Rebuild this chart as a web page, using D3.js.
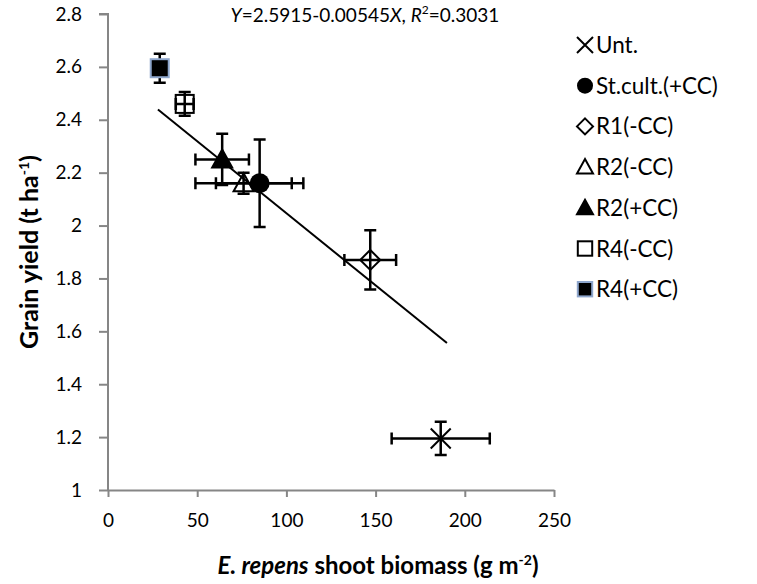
<!DOCTYPE html>
<html><head><meta charset="utf-8">
<script src="https://cdn.jsdelivr.net/npm/d3@7"></script>
<style>body{margin:0;background:#fff}svg{display:block}text{font-family:Lato,"Open Sans",sans-serif}</style>
</head><body><svg id="c" width="757" height="584"></svg>
<script>
const treatments = ["Unt.","St.cult.(+CC)","R1(-CC)","R2(-CC)","R2(+CC)","R4(-CC)","R4(+CC)"];
const symbols    = ["x","circle","diamond","triangleOpen","triangle","squareOpen","square"];
const biomass    = [186.5, 85, 147, 76, 64, 43, 29];
const biomassErr = [27.5, 24.5, 14.5, 27, 15, 5, 0];
const grainYield = [1.195, 2.16, 1.87, 2.16, 2.25, 2.46, 2.595];
const yieldErr   = [0.063, 0.165, 0.112, 0.04, 0.097, 0.045, 0.055];
const xTicks = [0,50,100,150,200,250];
const yTicks = [1,1.2,1.4,1.6,1.8,2,2.2,2.4,2.6,2.8];
const regA = 2.5915, regB = -0.00545, regX = [28, 190];

const svg = d3.select("#c");
const L=108,R=554,T=14,B=490;
const x = d3.scaleLinear().domain([0,250]).range([L,R]);
const y = d3.scaleLinear().domain([1,2.8]).range([B,T]);
const grey="#868686";

const xa = svg.append("g").attr("transform",`translate(0,${B})`)
  .call(d3.axisBottom(x).tickValues(xTicks).tickSize(7).tickSizeOuter(0).tickPadding(17).tickFormat(d3.format("d")));
const ya = svg.append("g").attr("transform",`translate(${L},0)`)
  .call(d3.axisLeft(y).tickValues(yTicks).tickSize(9).tickSizeOuter(0).tickPadding(17).tickFormat(d=>String(d)));
[xa,ya].forEach(g=>{g.selectAll("path,line").attr("stroke",grey).attr("stroke-width",2);
  g.selectAll("text").attr("fill","#000").attr("font-size",19).attr("font-family","Lato, sans-serif");});
ya.select(".domain").attr("d",`M-9,${T}H0V${B}`);

// regression line
svg.append("line").attr("x1",x(regX[0])).attr("y1",y(regA+regB*regX[0]))
  .attr("x2",x(regX[1])).attr("y2",y(regA+regB*regX[1])).attr("stroke","#000").attr("stroke-width",2);

// error bars
const cap=6;
treatments.forEach((t,i)=>{
  const g=svg.append("g").attr("stroke","#000").attr("stroke-width",2.5).attr("fill","none");
  const cx=x(biomass[i]), cy=y(grainYield[i]);
  if(biomassErr[i]>0){
    const x0=x(biomass[i]-biomassErr[i]), x1=x(biomass[i]+biomassErr[i]);
    g.append("path").attr("d",`M${x0},${cy}H${x1}M${x0},${cy-cap}V${cy+cap}M${x1},${cy-cap}V${cy+cap}`);
  }
  const y0=y(grainYield[i]-yieldErr[i]), y1=y(grainYield[i]+yieldErr[i]);
  g.append("path").attr("d",`M${cx},${y0}V${y1}M${cx-cap},${y0}H${cx+cap}M${cx-cap},${y1}H${cx+cap}`);
});

function marker(g,type,cx,cy,s){
  s=s||1;
  if(type==="x"){
    g.append("path").attr("d",`M${cx-10*s},${cy-10*s}L${cx+10*s},${cy+10*s}M${cx-10*s},${cy+10*s}L${cx+10*s},${cy-10*s}`)
     .attr("stroke","#000").attr("stroke-width",2);
  } else if(type==="circle"){
    g.append("circle").attr("cx",cx).attr("cy",cy).attr("r",10*s).attr("fill","#000");
  } else if(type==="diamond"){
    const r=10*s;
    g.append("path").attr("d",`M${cx},${cy-r}L${cx+r},${cy}L${cx},${cy+r}L${cx-r},${cy}Z`).attr("fill","none").attr("stroke","#000").attr("stroke-width",2);
  } else if(type==="triangleOpen"||type==="triangle"){
    const r=10*s;
    g.append("path").attr("d",`M${cx},${cy-r}L${cx+r},${cy+r*0.8}L${cx-r},${cy+r*0.8}Z`)
      .attr("fill",type==="triangle"?"#000":"none").attr("stroke","#000").attr("stroke-width",2);
  } else if(type==="squareOpen"){
    const r=9*s;
    g.append("rect").attr("x",cx-r).attr("y",cy-r).attr("width",2*r).attr("height",2*r).attr("fill","none").attr("stroke","#000").attr("stroke-width",2);
  } else if(type==="square"){
    const r=9*s;
    g.append("rect").attr("x",cx-r).attr("y",cy-r).attr("width",2*r).attr("height",2*r).attr("fill","#000").attr("stroke","#8ea6cc").attr("stroke-width",2);
  }
}
const mg=svg.append("g");
treatments.forEach((t,i)=>marker(mg,symbols[i],x(biomass[i]),y(grainYield[i]),1));

// legend
const lg=svg.append("g");
treatments.forEach((t,i)=>{
  const ly=45+i*40.7;
  marker(lg,symbols[i],585,ly,0.8);
  lg.append("text").attr("x",596).attr("y",ly+8).attr("font-size",22.5).text(t);
});

// equation
const eq=svg.append("text").attr("x",365).attr("y",22).attr("text-anchor","middle").attr("font-size",19);
eq.append("tspan").attr("font-style","italic").text("Y");
eq.append("tspan").text("=2.5915-0.00545");
eq.append("tspan").attr("font-style","italic").text("X");
eq.append("tspan").text(", ");
eq.append("tspan").attr("font-style","italic").text("R");
eq.append("tspan").attr("font-size",12).attr("dy",-8).text("2");
eq.append("tspan").attr("dy",8).text("=0.3031");

// axis titles
const xt=svg.append("text").attr("x",378).attr("y",574).attr("text-anchor","middle").attr("font-size",24).attr("font-weight","bold");
xt.append("tspan").attr("font-style","italic").text("E. repens");
xt.append("tspan").text(" shoot biomass (g m");
xt.append("tspan").attr("font-size",14).attr("dy",-9).text("-2");
xt.append("tspan").attr("dy",9).text(")");

const yt=svg.append("text").attr("transform","translate(38,252) rotate(-90)").attr("text-anchor","middle").attr("font-size",25).attr("font-weight","bold");
yt.append("tspan").text("Grain yield (t ha");
yt.append("tspan").attr("font-size",14).attr("dy",-9).text("-1");
yt.append("tspan").attr("dy",9).text(")");
</script></body></html>
